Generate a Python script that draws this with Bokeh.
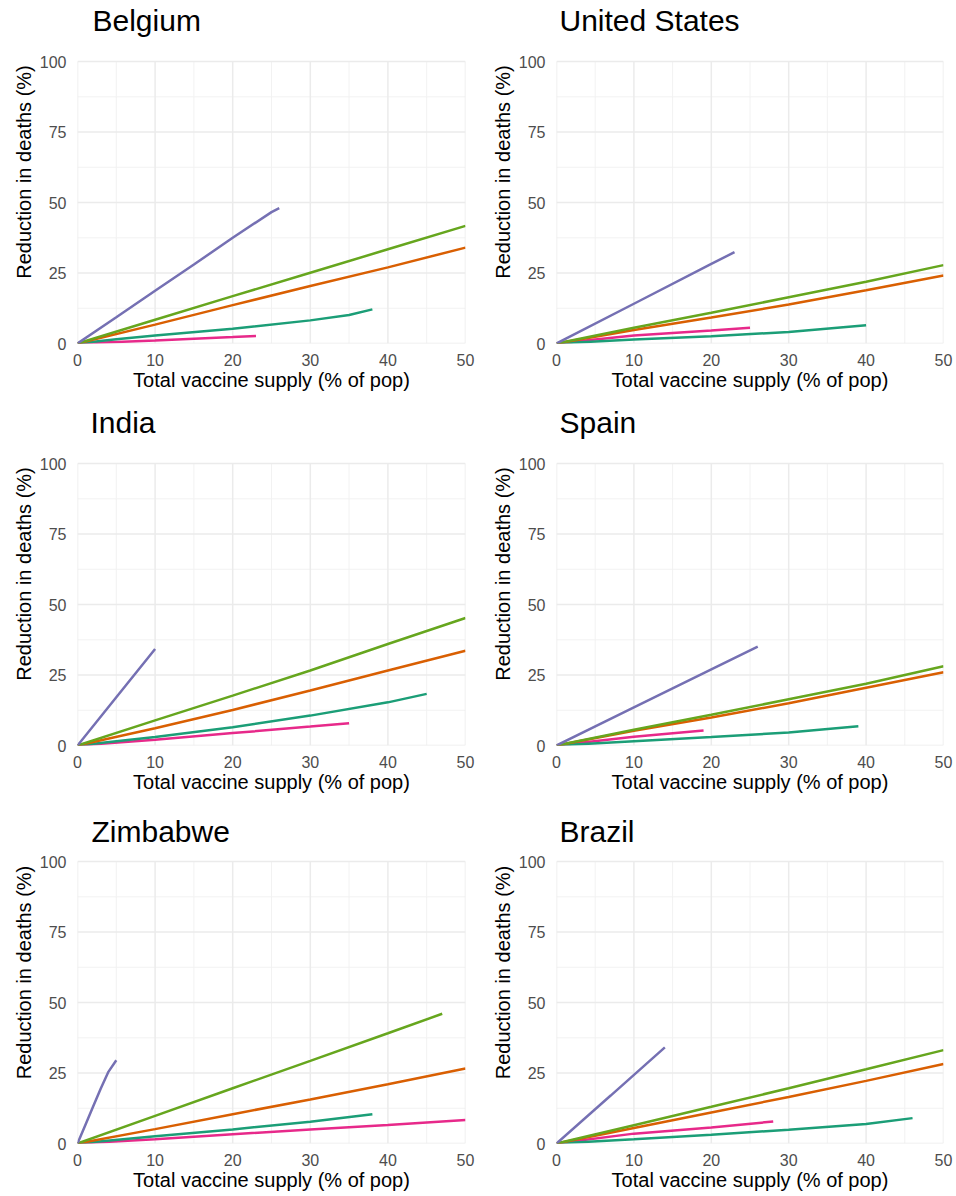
from bokeh.plotting import figure
from bokeh.layouts import column, row
from bokeh.models import Range1d, FixedTicker, Label
from bokeh.embed import file_html
from bokeh.resources import INLINE

# ---------------- data ----------------
countries = ["Belgium", "United States", "India", "Spain", "Zimbabwe", "Brazil"]
series_names = ["purple", "green", "orange", "teal", "pink"]

x_ticks = [0, 10, 20, 30, 40, 50]
x_minor = [5, 15, 25, 35, 45]
y_ticks = [0, 25, 50, 75, 100]
y_minor = [12.5, 37.5, 62.5, 87.5]

# Belgium
bel_purple_x = [0, 5, 10, 15, 20, 25, 26]
bel_purple_y = [0, 9.3, 18.7, 28.0, 37.5, 46.6, 48.0]
bel_green_x = [0, 10, 20, 30, 40, 50]
bel_green_y = [0, 8.4, 16.8, 25.1, 33.4, 41.7]
bel_orange_x = [0, 10, 20, 30, 40, 50]
bel_orange_y = [0, 6.7, 13.6, 20.4, 27.0, 34.0]
bel_teal_x = [0, 5, 10, 20, 30, 35, 38]
bel_teal_y = [0, 1.5, 2.8, 5.2, 8.2, 10.1, 12.1]
bel_pink_x = [0, 10, 20, 23]
bel_pink_y = [0, 1.1, 2.3, 2.7]

# United States
usa_purple_x = [0, 10, 20, 23]
usa_purple_y = [0, 14.1, 28.2, 32.4]
usa_green_x = [0, 10, 20, 30, 40, 50]
usa_green_y = [0, 5.6, 10.9, 16.4, 21.9, 27.8]
usa_orange_x = [0, 10, 20, 30, 40, 50]
usa_orange_y = [0, 4.8, 9.2, 13.8, 18.9, 24.1]
usa_teal_x = [0, 10, 20, 30, 40]
usa_teal_y = [0, 1.4, 2.6, 4.1, 6.5]
usa_pink_x = [0, 10, 20, 25]
usa_pink_y = [0, 2.8, 4.6, 5.6]

# India
ind_purple_x = [0, 5, 10]
ind_purple_y = [0, 17.1, 34.2]
ind_green_x = [0, 10, 20, 30, 40, 50]
ind_green_y = [0, 8.9, 17.7, 26.6, 36.0, 45.2]
ind_orange_x = [0, 10, 20, 30, 40, 50]
ind_orange_y = [0, 6.1, 12.6, 19.5, 26.6, 33.6]
ind_teal_x = [0, 10, 20, 30, 40, 45]
ind_teal_y = [0, 3.0, 6.5, 10.6, 15.3, 18.3]
ind_pink_x = [0, 10, 20, 30, 35]
ind_pink_y = [0, 2.0, 4.4, 6.7, 7.9]

# Spain
esp_purple_x = [0, 10, 20, 26]
esp_purple_y = [0, 13.5, 27.0, 35.1]
esp_green_x = [0, 10, 20, 30, 40, 50]
esp_green_y = [0, 5.6, 10.9, 16.4, 21.9, 28.1]
esp_orange_x = [0, 10, 20, 30, 40, 50]
esp_orange_y = [0, 5.2, 9.9, 15.0, 20.5, 26.0]
esp_teal_x = [0, 10, 20, 30, 39]
esp_teal_y = [0, 1.5, 3.0, 4.6, 6.8]
esp_pink_x = [0, 10, 19]
esp_pink_y = [0, 3.1, 5.3]

# Zimbabwe
zwe_purple_x = [0, 1, 2, 3, 4, 5]
zwe_purple_y = [0, 6.5, 13.0, 19.5, 25.5, 29.5]
zwe_green_x = [0, 10, 20, 30, 40, 47]
zwe_green_y = [0, 9.8, 19.6, 29.3, 39.1, 46.0]
zwe_orange_x = [0, 10, 20, 30, 40, 50]
zwe_orange_y = [0, 5.1, 10.4, 15.6, 21.0, 26.6]
zwe_teal_x = [0, 10, 20, 30, 38]
zwe_teal_y = [0, 2.6, 5.0, 7.7, 10.4]
zwe_pink_x = [0, 10, 20, 30, 40, 50]
zwe_pink_y = [0, 1.5, 3.3, 5.0, 6.6, 8.3]

# Brazil
bra_purple_x = [0, 7, 14]
bra_purple_y = [0, 17.0, 34.1]
bra_green_x = [0, 10, 20, 30, 40, 50]
bra_green_y = [0, 6.5, 13.0, 19.6, 26.3, 33.1]
bra_orange_x = [0, 10, 20, 30, 40, 50]
bra_orange_y = [0, 5.5, 11.0, 16.5, 22.2, 28.2]
bra_teal_x = [0, 10, 20, 30, 40, 46]
bra_teal_y = [0, 1.5, 3.1, 4.9, 6.9, 9.0]
bra_pink_x = [0, 10, 20, 28]
bra_pink_y = [0, 3.5, 5.7, 7.8]

panel_data = {
    "Belgium": [(bel_purple_x, bel_purple_y), (bel_green_x, bel_green_y), (bel_orange_x, bel_orange_y),
                (bel_teal_x, bel_teal_y), (bel_pink_x, bel_pink_y)],
    "United States": [(usa_purple_x, usa_purple_y), (usa_green_x, usa_green_y), (usa_orange_x, usa_orange_y),
                      (usa_teal_x, usa_teal_y), (usa_pink_x, usa_pink_y)],
    "India": [(ind_purple_x, ind_purple_y), (ind_green_x, ind_green_y), (ind_orange_x, ind_orange_y),
              (ind_teal_x, ind_teal_y), (ind_pink_x, ind_pink_y)],
    "Spain": [(esp_purple_x, esp_purple_y), (esp_green_x, esp_green_y), (esp_orange_x, esp_orange_y),
              (esp_teal_x, esp_teal_y), (esp_pink_x, esp_pink_y)],
    "Zimbabwe": [(zwe_purple_x, zwe_purple_y), (zwe_green_x, zwe_green_y), (zwe_orange_x, zwe_orange_y),
                 (zwe_teal_x, zwe_teal_y), (zwe_pink_x, zwe_pink_y)],
    "Brazil": [(bra_purple_x, bra_purple_y), (bra_green_x, bra_green_y), (bra_orange_x, bra_orange_y),
               (bra_teal_x, bra_teal_y), (bra_pink_x, bra_pink_y)],
}

# ---------------- styles ----------------
COLORS = {"purple": "#7570B3", "green": "#66A61E", "orange": "#D95F02",
          "teal": "#1B9E77", "pink": "#E7298A"}
DRAW_ORDER = ["pink", "teal", "orange", "green", "purple"]
FONT = "Liberation Sans"
FRAME_H = 282          # pixel height of the 0..100 data area
X_MAX, Y_MAX = 50, 100

# layout geometry per row: (fig height, space above data area, title baseline above data area)
ROWS = [(402, 61, 41), (399, 61, 41), (395, 60, 30)]
COLS = [(478, 77, 13), (478, 78, 13)]  # width, left border, right border
TITLE_DX = {"Belgium": 15, "United States": 3, "India": 13, "Spain": 3, "Zimbabwe": 14, "Brazil": 3}


def make_panel(name, r, c):
    h, top, title_rise = ROWS[r]
    w, left, right = COLS[c]
    bottom = h - top - FRAME_H
    px = Y_MAX / FRAME_H  # data units per pixel (y)
    p = figure(width=w, height=h, x_range=Range1d(0, X_MAX),
               y_range=Range1d(0, Y_MAX + top * px),
               output_backend="svg", toolbar_location=None,
               min_border_left=left, min_border_right=right,
               min_border_top=0, min_border_bottom=bottom,
               outline_line_color=None, background_fill_color="white",
               border_fill_color="white")

    # grid (only over the 0..50 x 0..100 panel area)
    p.xgrid.visible = False
    p.ygrid.visible = False
    p.segment(x0=x_minor, y0=[0] * len(x_minor), x1=x_minor, y1=[Y_MAX] * len(x_minor),
              line_color="#F0F0F0", line_width=0.9)
    p.segment(x0=[0] * len(y_minor), y0=y_minor, x1=[X_MAX] * len(y_minor), y1=y_minor,
              line_color="#F0F0F0", line_width=0.9)
    p.segment(x0=x_ticks, y0=[0] * len(x_ticks), x1=x_ticks, y1=[Y_MAX] * len(x_ticks),
              line_color="#EBEBEB", line_width=1.5)
    p.segment(x0=[0] * len(y_ticks), y0=y_ticks, x1=[X_MAX] * len(y_ticks), y1=y_ticks,
              line_color="#EBEBEB", line_width=1.5)

    t = Label(text=name, x=TITLE_DX[name], y=Y_MAX + title_rise * px,
              x_units="screen", y_units="data",
              text_align="left", text_baseline="alphabetic",
              text_font=FONT, text_font_size="30px", text_font_style="normal",
              text_color="#000000")
    p.add_layout(t)

    p.xaxis.ticker = FixedTicker(ticks=x_ticks, minor_ticks=x_minor)
    p.yaxis.ticker = FixedTicker(ticks=y_ticks, minor_ticks=y_minor)
    p.yaxis.bounds = (0, Y_MAX)
    for ax in (p.xaxis, p.yaxis):
        ax.axis_line_color = None
        ax.major_tick_line_color = None
        ax.minor_tick_line_color = None
        ax.major_tick_out = 0
        ax.major_tick_in = 0
        ax.minor_tick_out = 0
        ax.major_label_text_font = FONT
        ax.major_label_text_font_size = "16px"
        ax.major_label_text_color = "#4D4D4D"
        ax.axis_label_text_font = FONT
        ax.axis_label_text_font_size = "20px"
        ax.axis_label_text_font_style = "normal"
        ax.axis_label_text_color = "#000000"
    p.xaxis.axis_label = "Total vaccine supply (% of pop)"
    p.yaxis.axis_label = "Reduction in deaths (%)"
    p.xaxis.major_label_standoff = 10
    p.xaxis.axis_label_standoff = 0
    p.yaxis.major_label_standoff = 11
    p.yaxis.axis_label_standoff = 2

    series = dict(zip(series_names, panel_data[name]))
    for s in DRAW_ORDER:
        xs, ys = series[s]
        p.line(xs, ys, line_color=COLORS[s], line_width=2.5)
    return p


figs = [make_panel(name, i // 2, i % 2) for i, name in enumerate(countries)]
layout = column(row(figs[0], figs[1]), row(figs[2], figs[3]), row(figs[4], figs[5]))

open("out.html", "w").write(file_html(layout, INLINE))
